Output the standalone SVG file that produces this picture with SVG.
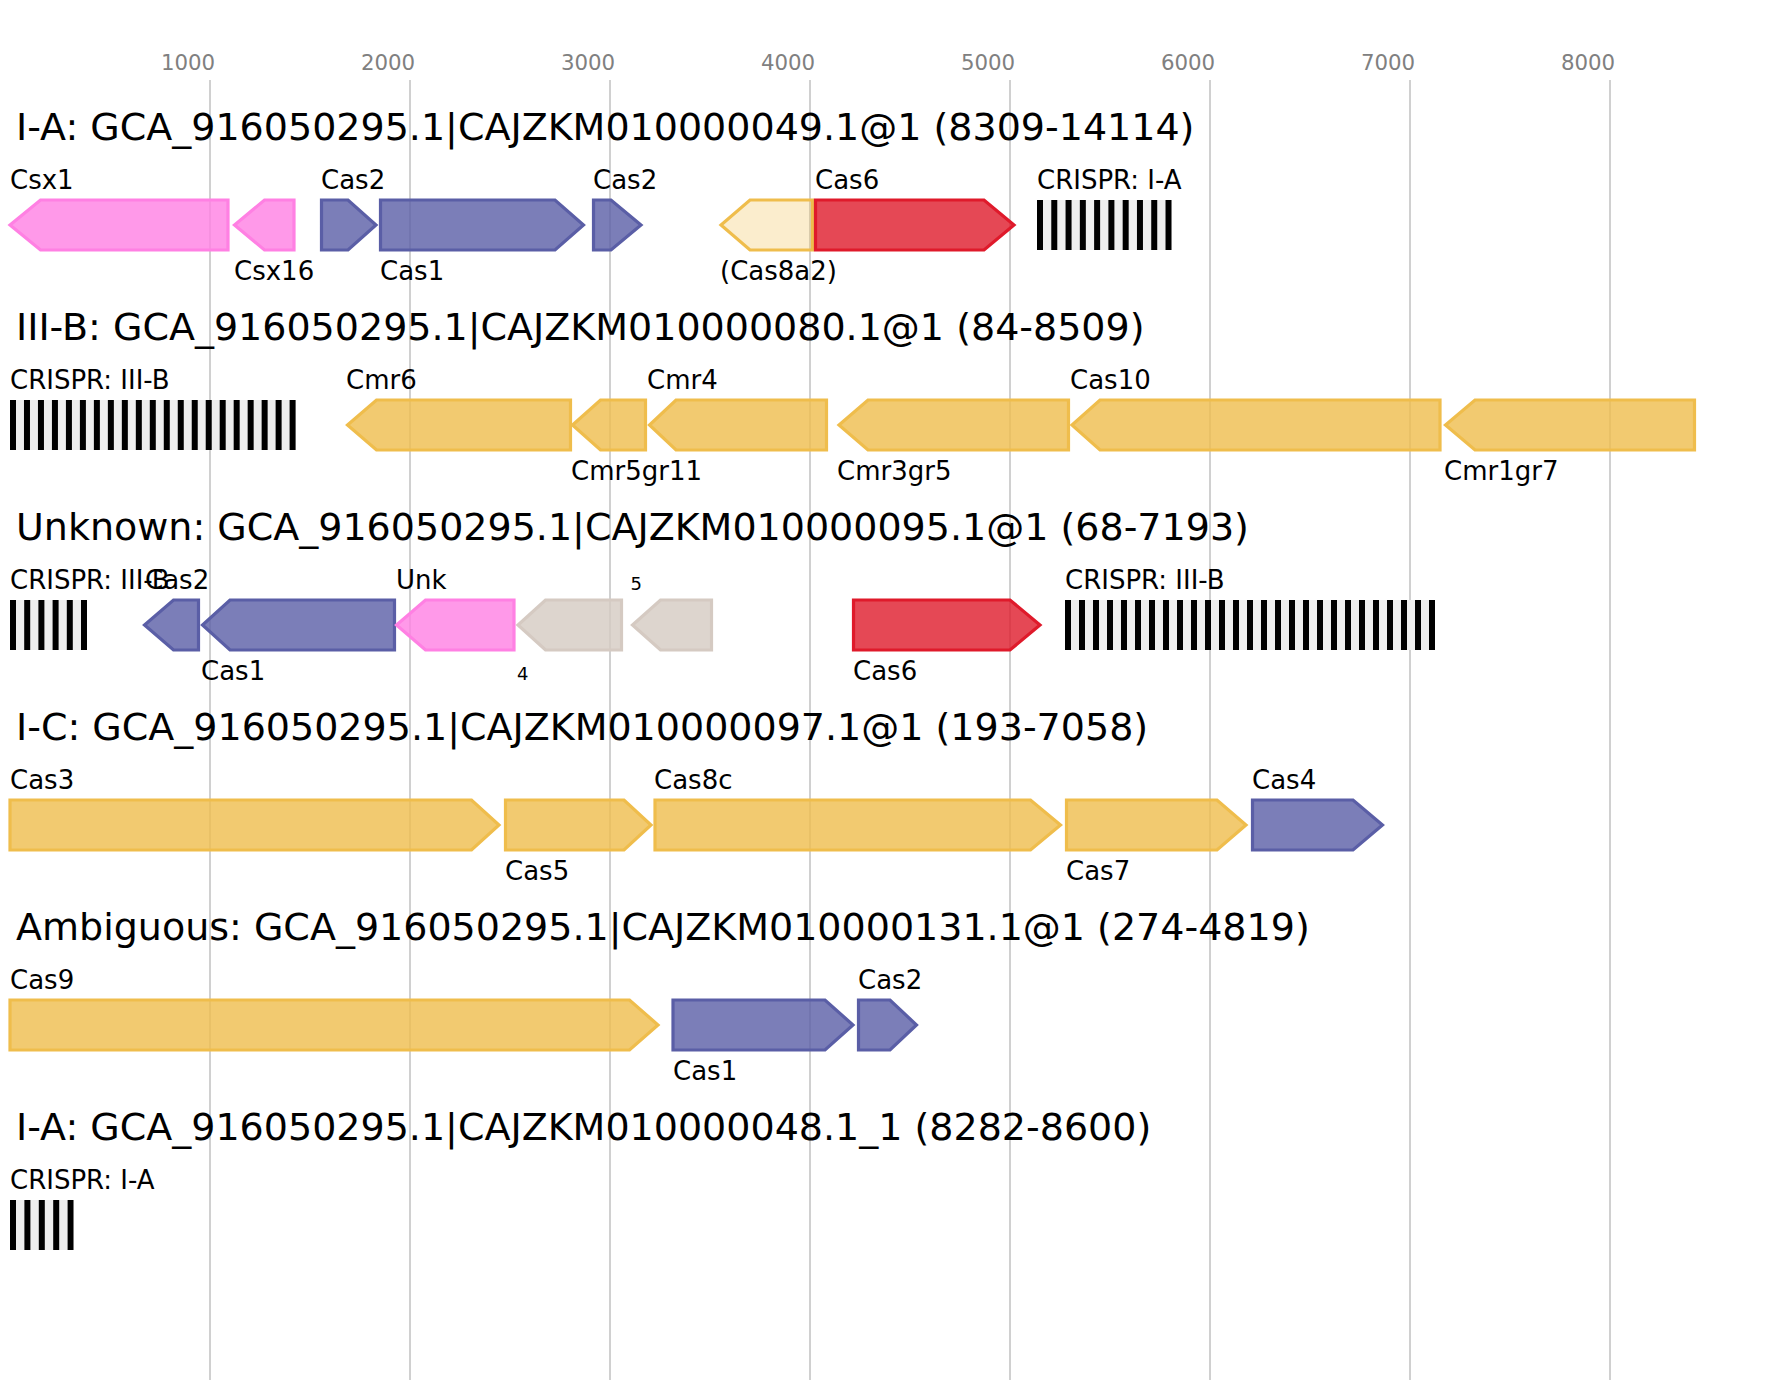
<svg xmlns="http://www.w3.org/2000/svg" width="1785" height="1400" viewBox="0 0 1785 1400">
<style>
text{font-family:"DejaVu Sans","Noto Sans",sans-serif;fill:#000}
.tick{font-size:21.3px;fill:#808080;text-anchor:middle}
.title{font-size:38px}
.lbl{font-size:26px}
.sm{font-size:18px}
.grid{stroke:#c0c0c0;stroke-width:1.5}
.g{stroke-width:3.2;stroke-linejoin:miter}
.blue{fill:#5a5ea6;fill-opacity:.8;stroke:#5a5ea6}
.orange{fill:#efbd4c;fill-opacity:.8;stroke:#efbd4c}
.light{fill:#efbd4c;fill-opacity:.28;stroke:#efbd4c}
.pink{fill:#ff80e3;fill-opacity:.8;stroke:#ff80e3}
.red{fill:#df1a2b;fill-opacity:.8;stroke:#df1a2b}
.gray{fill:#d5cac2;fill-opacity:.8;stroke:#d5cac2}
.arrbg{fill:#eeeeee}
.rep{stroke:#000;stroke-width:50}
</style>
<rect width="1785" height="1400" fill="#fff"/>
<g id="axis">
<g class="grid">
<line x1="210" y1="80" x2="210" y2="1380"/><line x1="410" y1="80" x2="410" y2="1380"/><line x1="610" y1="80" x2="610" y2="1380"/><line x1="810" y1="80" x2="810" y2="1380"/><line x1="1010" y1="80" x2="1010" y2="1380"/><line x1="1210" y1="80" x2="1210" y2="1380"/><line x1="1410" y1="80" x2="1410" y2="1380"/><line x1="1610" y1="80" x2="1610" y2="1380"/>
</g>
<text class="tick" x="188" y="70">1000</text><text class="tick" x="388" y="70">2000</text><text class="tick" x="588" y="70">3000</text><text class="tick" x="788" y="70">4000</text><text class="tick" x="988" y="70">5000</text><text class="tick" x="1188" y="70">6000</text><text class="tick" x="1388" y="70">7000</text><text class="tick" x="1588" y="70">8000</text>
</g>

<g id="row1">
<text class="title" x="16" y="140">I-A: GCA_916050295.1|CAJZKM010000049.1@1 (8309-14114)</text>
<g id="r1-csx1"><path class="g pink" d="M228,200 H40.5 L10,225 L40.5,250 H228 Z"/><text class="lbl" x="10" y="189">Csx1</text></g>
<g id="r1-csx16"><path class="g pink" d="M294,200 H264.5 L234.5,225 L264.5,250 H294 Z"/><text class="lbl" x="234" y="280">Csx16</text></g>
<g id="r1-cas2a"><path class="g blue" d="M321.5,200 H348 L376,225 L348,250 H321.5 Z"/><text class="lbl" x="321" y="189">Cas2</text></g>
<g id="r1-cas1"><path class="g blue" d="M380.5,200 H555 L583.5,225 L555,250 H380.5 Z"/><text class="lbl" x="380" y="280">Cas1</text></g>
<g id="r1-cas2b"><path class="g blue" d="M593.5,200 H611 L641,225 L611,250 H593.5 Z"/><text class="lbl" x="593" y="189">Cas2</text></g>
<g id="r1-cas8a2"><path class="g light" d="M812.5,200 H750 L721,225 L750,250 H812.5 Z"/><text class="lbl" x="720" y="280">(Cas8a2)</text></g>
<g id="r1-cas6"><path class="g red" d="M815.5,200 H984 L1014,225 L984,250 H815.5 Z"/><text class="lbl" x="815" y="189">Cas6</text></g>
<g id="r1-crispr"><rect class="arrbg" x="1037" y="200" width="134.5" height="50"/><line class="rep" x1="1037" y1="225" x2="1171.5" y2="225" stroke-dasharray="6 8.28"/><text class="lbl" x="1037" y="189">CRISPR: I-A</text></g>
</g>

<g id="row2">
<text class="title" x="16" y="340">III-B: GCA_916050295.1|CAJZKM010000080.1@1 (84-8509)</text>
<g id="r2-crispr"><rect class="arrbg" x="10" y="400" width="285.6" height="50"/><line class="rep" x1="10" y1="425" x2="295.6" y2="425" stroke-dasharray="6 7.98"/><text class="lbl" x="10" y="389">CRISPR: III-B</text></g>
<g id="r2-cmr6"><path class="g orange" d="M570.5,400 H376.5 L347.5,425 L376.5,450 H570.5 Z"/><text class="lbl" x="346" y="389">Cmr6</text></g>
<g id="r2-cmr5"><path class="g orange" d="M645.5,400 H600.5 L572.5,425 L600.5,450 H645.5 Z"/><text class="lbl" x="571" y="480">Cmr5gr11</text></g>
<g id="r2-cmr4"><path class="g orange" d="M826.5,400 H676 L649.5,425 L676,450 H826.5 Z"/><text class="lbl" x="647" y="389">Cmr4</text></g>
<g id="r2-cmr3"><path class="g orange" d="M1068.5,400 H868 L839,425 L868,450 H1068.5 Z"/><text class="lbl" x="837" y="480">Cmr3gr5</text></g>
<g id="r2-cas10"><path class="g orange" d="M1440,400 H1100 L1072,425 L1100,450 H1440 Z"/><text class="lbl" x="1070" y="389">Cas10</text></g>
<g id="r2-cmr1"><path class="g orange" d="M1694.5,400 H1475 L1445.5,425 L1475,450 H1694.5 Z"/><text class="lbl" x="1444" y="480">Cmr1gr7</text></g>
</g>

<g id="row3">
<text class="title" x="16" y="540">Unknown: GCA_916050295.1|CAJZKM010000095.1@1 (68-7193)</text>
<g id="r3-crispr1"><rect class="arrbg" x="10" y="600" width="77" height="50"/><line class="rep" x1="10" y1="625" x2="87" y2="625" stroke-dasharray="6 8.2"/><text class="lbl" x="10" y="589">CRISPR: III-B</text></g>
<g id="r3-cas2"><path class="g blue" d="M198.5,600 H173.5 L144.5,625 L173.5,650 H198.5 Z"/><text class="lbl" x="145" y="589">Cas2</text></g>
<g id="r3-cas1"><path class="g blue" d="M394.5,600 H230 L202.5,625 L230,650 H394.5 Z"/><text class="lbl" x="201" y="680">Cas1</text></g>
<g id="r3-unk"><path class="g pink" d="M514,600 H425.5 L396.5,625 L425.5,650 H514 Z"/><text class="lbl" x="396" y="589">Unk</text></g>
<g id="r3-g4"><path class="g gray" d="M621.5,600 H545.5 L518,625 L545.5,650 H621.5 Z"/><text class="sm" x="517" y="680">4</text></g>
<g id="r3-g5"><path class="g gray" d="M711.5,600 H660.5 L632.5,625 L660.5,650 H711.5 Z"/><text class="sm" x="630.5" y="590">5</text></g>
<g id="r3-cas6"><path class="g red" d="M853.5,600 H1010 L1040,625 L1010,650 H853.5 Z"/><text class="lbl" x="853" y="680">Cas6</text></g>
<g id="r3-crispr2"><rect class="arrbg" x="1065" y="600" width="370" height="50"/><line class="rep" x1="1065" y1="625" x2="1435" y2="625" stroke-dasharray="6 8"/><text class="lbl" x="1065" y="589">CRISPR: III-B</text></g>
</g>

<g id="row4">
<text class="title" x="16" y="740">I-C: GCA_916050295.1|CAJZKM010000097.1@1 (193-7058)</text>
<g id="r4-cas3"><path class="g orange" d="M10,800 H471.5 L499,825 L471.5,850 H10 Z"/><text class="lbl" x="10" y="789">Cas3</text></g>
<g id="r4-cas5"><path class="g orange" d="M505.5,800 H624 L651,825 L624,850 H505.5 Z"/><text class="lbl" x="505" y="880">Cas5</text></g>
<g id="r4-cas8c"><path class="g orange" d="M655,800 H1030.5 L1060.5,825 L1030.5,850 H655 Z"/><text class="lbl" x="654" y="789">Cas8c</text></g>
<g id="r4-cas7"><path class="g orange" d="M1066.5,800 H1217 L1246,825 L1217,850 H1066.5 Z"/><text class="lbl" x="1066" y="880">Cas7</text></g>
<g id="r4-cas4"><path class="g blue" d="M1252.5,800 H1353 L1382.5,825 L1353,850 H1252.5 Z"/><text class="lbl" x="1252" y="789">Cas4</text></g>
</g>

<g id="row5">
<text class="title" x="16" y="940">Ambiguous: GCA_916050295.1|CAJZKM010000131.1@1 (274-4819)</text>
<g id="r5-cas9"><path class="g orange" d="M10,1000 H629.5 L658,1025 L629.5,1050 H10 Z"/><text class="lbl" x="10" y="989">Cas9</text></g>
<g id="r5-cas1"><path class="g blue" d="M673,1000 H825 L853,1025 L825,1050 H673 Z"/><text class="lbl" x="673" y="1080">Cas1</text></g>
<g id="r5-cas2"><path class="g blue" d="M858.5,1000 H890 L916.5,1025 L890,1050 H858.5 Z"/><text class="lbl" x="858" y="989">Cas2</text></g>
</g>

<g id="row6">
<text class="title" x="16" y="1140">I-A: GCA_916050295.1|CAJZKM010000048.1_1 (8282-8600)</text>
<g id="r6-crispr"><rect class="arrbg" x="10" y="1200" width="63.5" height="50"/><line class="rep" x1="10" y1="1225" x2="73.5" y2="1225" stroke-dasharray="6 8.4"/><text class="lbl" x="10" y="1189">CRISPR: I-A</text></g>
</g>

<g id="connectors"></g>
</svg>
